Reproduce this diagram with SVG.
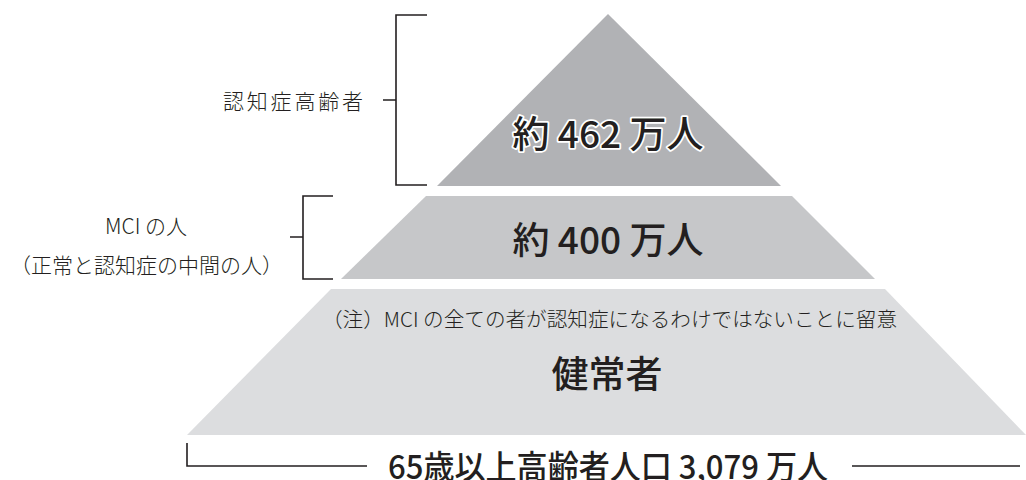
<svg xmlns="http://www.w3.org/2000/svg" width="1026" height="480" viewBox="0 0 1026 480">
<style>
text{font-family:"Noto Sans CJK JP","Noto Sans",sans-serif;fill:#231f20}
.lbl{font-size:21px;font-weight:300}
.big{font-size:37px;font-weight:500;text-anchor:middle}
.halo{stroke:#ffffff;stroke-width:3.5px;paint-order:stroke;stroke-linejoin:round}
.br{fill:none;stroke:#231f20;stroke-width:1.6}
</style>
<rect width="1026" height="480" fill="#ffffff"/>
<g id="node-dementia">
<polygon points="608,14 437,186 781,186" fill="#b1b2b5"/>
<text class="big halo" x="608" y="148">約 462 万人</text>
</g>
<g id="node-mci">
<polygon points="426,196 792,196 875,279 341,279" fill="#c6c7c9"/>
<text class="big" x="608" y="254">約 400 万人</text>
</g>
<g id="node-healthy">
<polygon points="331,289 885,289 1026,435 187,435" fill="#dcdddf"/>
<text x="322" y="327" style="font-size:20px;font-weight:300" textLength="575" lengthAdjust="spacingAndGlyphs">（注）MCI の全ての者が認知症になるわけではないことに留意</text>
<text class="big" x="607" y="388">健常者</text>
</g>
<g id="label-dementia">
<text class="lbl" x="223" y="109" textLength="140" lengthAdjust="spacing">認知症高齢者</text>
</g>
<g id="label-mci">
<text class="lbl" x="146" y="234" text-anchor="middle">MCI の人</text>
<text class="lbl" x="10" y="273" textLength="273" lengthAdjust="spacingAndGlyphs">（正常と認知症の中間の人）</text>
</g>
<g id="label-total">
<text x="388" y="479" style="font-size:33px;font-weight:500" textLength="440" lengthAdjust="spacingAndGlyphs">65歳以上高齢者人口 3,079 万人</text>
</g>
<g id="connectors">
<path class="br" d="M427,15 H396 V185 H427 M383,100 H396"/>
<path class="br" d="M333,196 H303 V279 H333 M290,237 H303"/>
<path class="br" d="M187,443 V466 H367 M852,466 H1020"/>
</g>
</svg>
